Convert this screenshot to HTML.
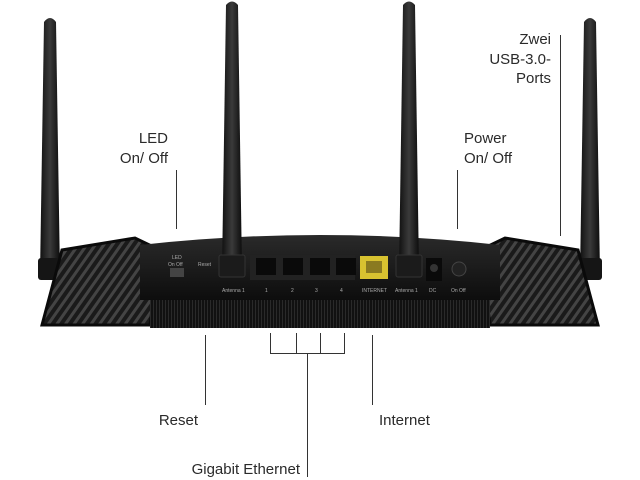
<!DOCTYPE html>
<html><head><meta charset="utf-8"><style>
html,body{margin:0;padding:0;background:#fff;}
svg{display:block}
text{font-family:"Liberation Sans",sans-serif;font-size:15px;fill:#2a2a2a;}
</style></head><body>
<svg width="640" height="480" viewBox="0 0 640 480">
<defs>
<linearGradient id="ant" x1="0" x2="1"><stop offset="0" stop-color="#111"/><stop offset="0.5" stop-color="#3a3a3a"/><stop offset="1" stop-color="#0c0c0c"/></linearGradient>
<linearGradient id="body" x1="0" y1="0" x2="0" y2="1"><stop offset="0" stop-color="#2a2a2a"/><stop offset="1" stop-color="#0d0d0d"/></linearGradient>
<pattern id="grill" width="7" height="7" patternUnits="userSpaceOnUse" patternTransform="rotate(35)"><rect width="7" height="7" fill="#1a1a1a"/><rect width="3" height="7" fill="#444"/></pattern>
<pattern id="vent" width="3" height="10" patternUnits="userSpaceOnUse"><rect width="3" height="10" fill="#111"/><rect width="1" height="10" fill="#2a2a2a"/></pattern>
</defs>
<!-- outer antennas -->
<path d="M44 22 Q50 14 56 22 L60 275 L40 275 Z" fill="url(#ant)"/>
<path d="M584 22 Q590 14 596 22 L600 275 L580 275 Z" fill="url(#ant)"/>
<rect x="38" y="258" width="26" height="22" rx="3" fill="#151515"/>
<rect x="576" y="258" width="26" height="22" rx="3" fill="#151515"/>
<!-- wings -->
<path d="M42 325 L62 250 L135 238 L160 250 L150 325 Z" fill="url(#grill)" stroke="#0a0a0a" stroke-width="3"/>
<path d="M598 325 L578 250 L505 238 L480 250 L490 325 Z" fill="url(#grill)" stroke="#0a0a0a" stroke-width="3"/>
<!-- main body -->
<path d="M140 245 Q320 225 500 245 L500 300 L140 300 Z" fill="url(#body)"/>
<rect x="150" y="300" width="340" height="28" fill="url(#vent)"/>
<!-- middle antennas -->
<path d="M226 5 Q232 -2 238 5 L242 272 L222 272 Z" fill="url(#ant)"/>
<path d="M403 5 Q409 -2 415 5 L419 272 L399 272 Z" fill="url(#ant)"/>
<rect x="219" y="255" width="26" height="22" rx="2" fill="#1b1b1b" stroke="#333"/>
<rect x="396" y="255" width="26" height="22" rx="2" fill="#1b1b1b" stroke="#333"/>
<!-- ports -->
<rect x="250" y="255" width="105" height="25" fill="#222"/>
<rect x="256" y="258" width="20" height="17" fill="#0a0a0a"/><rect x="283" y="258" width="20" height="17" fill="#0a0a0a"/>
<rect x="310" y="258" width="20" height="17" fill="#0a0a0a"/><rect x="336" y="258" width="20" height="17" fill="#0a0a0a"/>
<rect x="360" y="256" width="28" height="23" fill="#d8c230"/><rect x="366" y="261" width="16" height="12" fill="#8a7a20"/>
<rect x="426" y="258" width="16" height="23" fill="#0a0a0a"/><circle cx="434" cy="268" r="4" fill="#333"/>
<circle cx="459" cy="269" r="7" fill="#222" stroke="#444"/>
<rect x="170" y="268" width="14" height="9" fill="#444"/>
<g>
<text x="172" y="259" style="font-size:5px;fill:#aaa">LED</text><text x="168" y="266" style="font-size:5px;fill:#aaa">On  Off</text>
<text x="198" y="266" style="font-size:5px;fill:#aaa">Reset</text>
<text x="222" y="292" style="font-size:5px;fill:#aaa">Antenna 1</text>
<text x="265" y="292" style="font-size:5px;fill:#aaa">1</text><text x="291" y="292" style="font-size:5px;fill:#aaa">2</text>
<text x="315" y="292" style="font-size:5px;fill:#aaa">3</text><text x="340" y="292" style="font-size:5px;fill:#aaa">4</text>
<text x="362" y="292" style="font-size:5px;fill:#aaa">INTERNET</text><text x="395" y="292" style="font-size:5px;fill:#aaa">Antenna 1</text>
<text x="429" y="292" style="font-size:5px;fill:#aaa">DC</text><text x="451" y="292" style="font-size:5px;fill:#aaa">On Off</text>
</g>
<!-- leader lines -->
<g stroke="#333" stroke-width="1" fill="none">
<line x1="176.5" y1="170" x2="176.5" y2="229"/>
<line x1="457.5" y1="170" x2="457.5" y2="229"/>
<line x1="560.5" y1="35" x2="560.5" y2="236"/>
<line x1="205.5" y1="335" x2="205.5" y2="405"/>
<line x1="372.5" y1="335" x2="372.5" y2="405"/>
<path d="M270.5 333 V353.5 H344.5 V333 M296.5 333 V353 M320.5 333 V353 M307.5 353 V477"/>
</g>
<text x="168" y="143" text-anchor="end">LED</text>
<text x="168" y="163" text-anchor="end">On/ Off</text>
<text x="464" y="143">Power</text>
<text x="464" y="163">On/ Off</text>
<text x="551" y="44" text-anchor="end">Zwei</text>
<text x="551" y="64" text-anchor="end">USB-3.0-</text>
<text x="551" y="83" text-anchor="end">Ports</text>
<text x="198" y="425" text-anchor="end">Reset</text>
<text x="379" y="425">Internet</text>
<text x="300" y="474" text-anchor="end">Gigabit Ethernet</text>
</svg>
</body></html>
